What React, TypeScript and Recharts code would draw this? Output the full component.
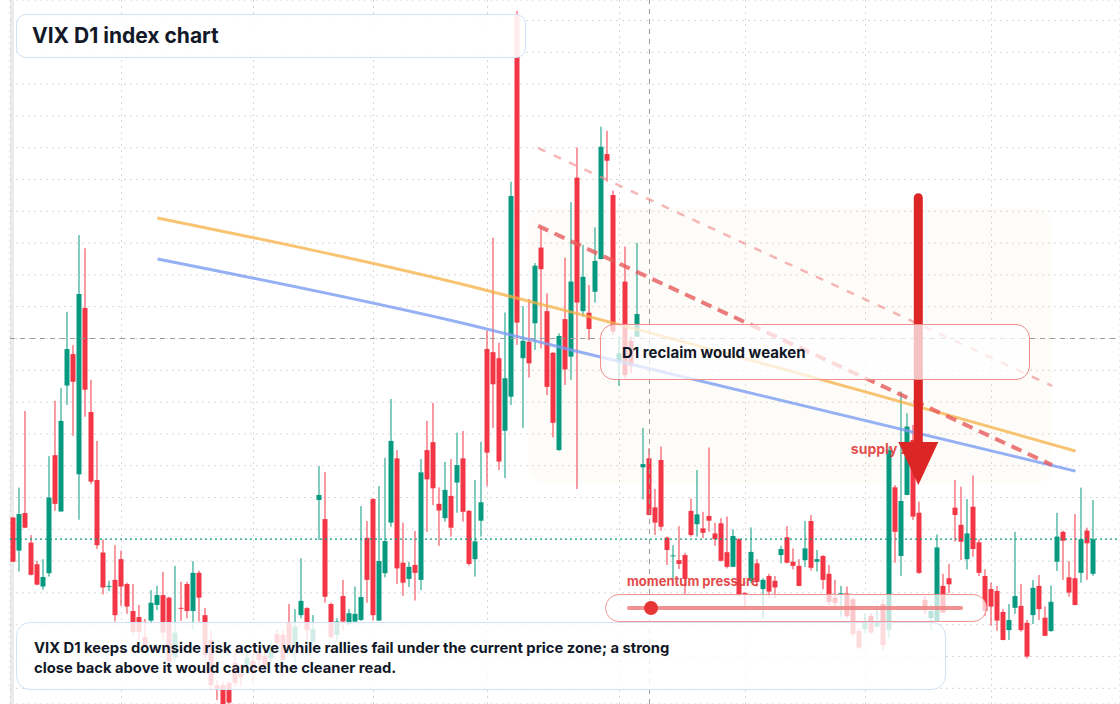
import React from 'react';
import {
  ComposedChart,
  Bar,
  Line,
  XAxis,
  YAxis,
  CartesianGrid,
  ReferenceLine,
  ReferenceArea,
  ReferenceDot,
} from 'recharts';

// ---- daily candles (VIX, D1) ----
const opens = [
  18.37, 17.33, 18.51, 17.58, 16.9, 16.2, 16.62, 20.33, 18.56, 22.52,
  23.51, 19.73, 24.96, 21.69, 19.55, 17.27, 16.21, 16.41, 17.06, 16.28,
  15.43, 15.24, 14.61, 15.13, 15.62, 15.93, 15.85, 13.97, 15.53, 16.28,
  15.43, 16.63, 15.3, 14.52, 13.1, 13.1, 13.17, 13.8, 13.45, 13.73,
  13.86, 14.12, 14.02, 13.94, 14.71, 14.68, 15.06, 14.31, 15.3, 15.52,
  14.47, 18.92, 18.32, 15.65, 14.68, 15.9, 15.02, 15.1, 15.15, 17.73,
  18.95, 15.13, 16.62, 18.21, 20.23, 16.95, 16.44, 16.88, 16.41, 20.49,
  20.74, 18.8, 18.35, 19.05, 19.47, 20.23, 18.58, 17.06, 18.27, 23.67,
  23.57, 23.38, 21.1, 22.17, 34.17, 23.38, 23.9, 24.48, 26.86, 24.86,
  23.55, 20.49, 24.61, 23.43, 29.06, 24.86, 24.81, 25.47, 26.5, 29.8,
  28.51, 23.27, 25.79, 23.93, 24.06, 19.95, 20.23, 18.69, 20.18, 17.74,
  17.17, 17.03, 17.19, 18.58, 18.16, 18.03, 18.42, 17.87, 18.19, 17.28,
  16.82, 17.69, 16.0, 16.38, 16.93, 16.12, 16.53, 16.38, 17.19, 17.75,
  16.98, 16.85, 17.03, 18.26, 16.98, 17.16, 16.6, 15.85, 15.93, 15.98,
  15.8, 14.8, 14.86, 15.27, 14.94, 15.65, 14.83, 19.32, 17.16, 19.08,
  20.81, 18.52, 15.78, 15.21, 15.1, 16.22, 16.46, 18.68, 18.14, 17.06,
  18.71, 17.59, 16.53, 16.12, 16.06, 15.4, 14.83, 15.53, 15.59, 15.06,
  15.3, 16.22, 15.22, 14.8, 16.98, 17.92, 16.49, 16.46, 16.63, 17.96,
  16.6,
];
const highs = [
  18.39, 19.31, 21.72, 17.82, 17.01, 17.06, 20.3, 22.04, 22.44, 24.84,
  23.79, 27.25, 26.84, 22.7, 20.78, 17.68, 16.38, 17.5, 17.33, 16.32,
  16.28, 15.62, 15.18, 16.09, 16.22, 16.66, 15.88, 16.85, 16.35, 16.35,
  17.0, 16.7, 15.53, 14.83, 13.26, 13.21, 13.21, 14.11, 13.73, 14.2,
  14.15, 14.31, 14.27, 14.47, 14.86, 14.83, 15.65, 15.49, 17.09, 15.55,
  15.3, 19.99, 19.8, 15.69, 15.2, 16.41, 15.49, 16.2, 18.73, 18.26,
  18.98, 19.36, 20.25, 22.1, 20.49, 18.21, 16.98, 17.95, 20.21, 21.41,
  21.98, 19.32, 20.12, 20.21, 21.04, 21.09, 18.61, 19.55, 20.75, 24.24,
  27.17, 23.87, 24.82, 28.93, 34.3, 25.02, 25.24, 26.37, 27.48, 25.42,
  23.58, 24.16, 26.54, 28.29, 30.01, 26.94, 25.68, 27.5, 30.66, 30.53,
  28.65, 24.06, 26.89, 24.06, 27.01, 21.19, 20.55, 19.27, 20.6, 17.77,
  17.5, 18.1, 17.26, 18.97, 19.86, 18.55, 20.57, 18.21, 18.35, 18.4,
  18.0, 17.72, 16.02, 18.06, 17.06, 16.46, 16.6, 16.53, 17.48, 18.1,
  17.4, 17.06, 18.26, 18.45, 17.35, 17.19, 16.88, 16.41, 16.22, 16.2,
  15.86, 14.86, 15.36, 15.36, 15.62, 15.8, 20.59, 19.39, 22.33, 21.65,
  21.28, 18.87, 15.9, 15.62, 17.84, 16.6, 16.91, 19.55, 19.34, 18.95,
  19.69, 17.69, 16.74, 16.32, 16.22, 15.49, 15.65, 17.92, 16.28, 15.15,
  16.41, 16.56, 15.57, 16.23, 18.52, 17.96, 17.0, 18.48, 19.31, 18.05,
  18.92,
];
const lows = [
  16.97, 16.67, 18.04, 16.55, 16.24, 16.1, 16.51, 18.58, 18.55, 21.91,
  20.94, 18.3, 21.54, 19.42, 17.38, 15.95, 16.06, 15.1, 15.59, 15.34,
  14.68, 14.52, 14.27, 15.02, 15.46, 14.52, 13.73, 13.89, 15.12, 15.2,
  14.86, 15.1, 13.89, 12.95, 12.63, 12.38, 12.51, 13.05, 13.05, 13.42,
  13.21, 13.68, 13.58, 13.79, 14.31, 13.37, 14.2, 13.8, 15.2, 14.52,
  14.31, 17.66, 15.69, 14.57, 14.47, 14.83, 14.99, 15.05, 15.12, 15.69,
  15.13, 15.12, 16.49, 18.08, 16.28, 15.91, 16.18, 15.76, 16.09, 17.92,
  18.76, 17.48, 18.24, 17.77, 18.52, 18.24, 16.86, 16.51, 17.77, 19.36,
  21.19, 19.86, 19.61, 21.91, 23.8, 21.19, 22.77, 23.64, 23.69, 22.22,
  20.89, 20.47, 22.54, 22.7, 19.27, 24.69, 23.95, 25.13, 26.49, 28.93,
  24.11, 22.51, 22.75, 22.91, 24.05, 18.94, 18.44, 17.82, 17.96, 16.88,
  16.41, 16.75, 15.97, 17.77, 17.77, 17.72, 17.92, 17.48, 16.98, 16.77,
  16.81, 15.9, 15.46, 16.3, 16.2, 15.2, 15.86, 15.83, 16.93, 16.93,
  16.74, 16.21, 16.82, 16.7, 16.67, 16.11, 15.62, 15.46, 15.25, 15.21,
  14.62, 14.23, 14.71, 14.71, 14.9, 14.2, 14.57, 16.95, 16.53, 19.07,
  18.29, 16.6, 15.34, 14.83, 15.09, 15.37, 15.99, 17.61, 17.03, 16.74,
  17.14, 16.53, 15.28, 14.97, 14.81, 14.51, 14.52, 15.34, 14.78, 13.94,
  15.02, 15.15, 14.64, 14.78, 16.69, 16.41, 15.88, 15.61, 16.32, 16.41,
  16.54,
];
const closes = [
  16.98, 18.48, 18.05, 16.57, 16.26, 16.5, 19.0, 18.8, 21.41, 23.67,
  22.64, 25.4, 22.39, 19.5, 17.5, 16.17, 16.22, 15.3, 16.2, 15.57,
  14.77, 14.77, 14.34, 15.69, 15.93, 14.75, 13.84, 14.75, 15.52, 15.43,
  16.63, 15.85, 14.05, 13.1, 12.95, 12.47, 12.55, 13.17, 13.36, 13.95,
  13.48, 13.89, 13.7, 14.31, 14.42, 13.89, 14.31, 14.94, 15.75, 14.83,
  14.86, 19.08, 15.88, 14.61, 15.1, 15.1, 15.36, 15.34, 15.87, 16.41,
  15.3, 17.0, 17.63, 20.78, 16.77, 16.32, 16.82, 16.63, 19.79, 19.57,
  19.29, 18.59, 19.24, 18.05, 20.02, 18.55, 16.91, 17.62, 18.85, 20.41,
  22.56, 20.13, 22.75, 28.48, 24.5, 23.93, 23.22, 26.29, 26.18, 22.48,
  21.35, 24.08, 23.03, 25.79, 25.13, 25.94, 24.3, 26.44, 30.03, 29.59,
  24.22, 23.54, 22.85, 23.14, 24.77, 20.05, 18.45, 18.21, 18.08, 17.35,
  17.18, 16.91, 16.44, 17.82, 18.47, 17.89, 18.27, 17.69, 17.01, 16.82,
  17.79, 15.93, 15.99, 17.29, 16.35, 16.41, 16.04, 16.17, 17.38, 16.95,
  16.85, 16.22, 17.4, 16.79, 17.06, 16.41, 15.72, 15.69, 15.99, 15.27,
  14.71, 14.28, 15.06, 14.75, 15.1, 14.36, 20.49, 17.92, 18.89, 21.23,
  18.4, 16.63, 15.46, 15.43, 17.43, 15.38, 16.27, 18.45, 17.61, 17.87,
  17.38, 16.63, 15.43, 15.57, 15.13, 14.52, 15.15, 15.9, 14.83, 14.0,
  16.16, 15.49, 14.65, 15.72, 17.77, 17.64, 16.01, 15.62, 17.69, 17.56,
  17.69,
];

// month boundaries (session index) and price grid
const monthStarts = [18, 40, 60, 79, 101, 122, 142, 163];
const priceTicks = [13, 14, 15, 16, 17, 18, 19, 20, 21, 22, 23, 24, 25, 26, 27, 28, 29, 30, 31, 32, 33, 34];
const xDomain = [-0.5833, 184.4167];
const yDomain = [12.506, 34.645];

// overlay curves (session index -> price)
const curveIdx = [24, 76, 93, 177];
const orangeVals = [27.79, 25.65, 24.83, 20.46];
const blueVals = [26.5, 24.43, 23.64, 19.83];

// annotations (session index, price)
const lastClose = 17.69;
const crossIndex = 106;
const crossPrice = 24;
const upperDash = [{ x: 87.45, y: 29.99 }, { x: 173.1, y: 22.51 }];
const lowerDash = [{ x: 87.45, y: 27.54 }, { x: 173.1, y: 20.02 }];
const zone = { x1: 85.8, x2: 173.1, y1: 19.42, y2: 28.1 };
const arrowX = 150.8;
const arrowTop = 28.43;
const arrowBase = 20.74;
const arrowTip = 19.39;
const supplyLabel = { x: 146.5, y: 20.55 };

const UP = '#089981';
const DOWN = '#f23645';

const data = opens.map((o, i) => {
  const k = curveIdx.indexOf(i);
  return {
    i,
    o,
    h: highs[i],
    l: lows[i],
    c: closes[i],
    orange: k >= 0 ? orangeVals[k] : null,
    blue: k >= 0 ? blueVals[k] : null,
  };
});

function Candle(props: any) {
  const { x, y, width, height, payload } = props;
  if (!payload || !isFinite(x) || !isFinite(y) || !isFinite(height)) return null;
  const { o, h, l, c } = payload;
  const cx = x + width / 2;
  const k = height / (h - l);
  const yo = y + (h - o) * k;
  const yc = y + (h - c) * k;
  const top = Math.min(yo, yc);
  const bh = Math.max(1, Math.abs(yc - yo));
  const col = c >= o ? UP : DOWN;
  return (
    <g>
      <line x1={cx} x2={cx} y1={y} y2={y + height} stroke={col} strokeWidth={1} />
      <rect x={cx - 2.5} y={top} width={5} height={bh} fill={col} />
    </g>
  );
}

function ArrowHead(props: any) {
  const { cx, cy } = props;
  if (!isFinite(cx) || !isFinite(cy)) return null;
  return <path d={`M${cx - 20},${cy - 43} L${cx + 20},${cy - 43} L${cx},${cy} Z`} fill="#dc2626" />;
}

function SupplyText(props: any) {
  const { cx, cy } = props;
  if (!isFinite(cx) || !isFinite(cy)) return null;
  return (
    <text x={cx} y={cy} textAnchor="middle" dominantBaseline="central" fill="#e03c3c" fillOpacity={0.92} fontSize={14} fontWeight={700}>
      supply zone
    </text>
  );
}

const font = "Inter, 'Liberation Sans', Arial, sans-serif";

export default function App() {
  return (
    <div style={{ position: 'absolute', left: 0, top: 0, width: 1120, height: 704, overflow: 'hidden', background: '#ffffff', fontFamily: font }}>
      <div style={{ position: 'absolute', left: 10, top: 0, width: 3.5, height: 704, background: '#ebebeb' }} />
      <div style={{ position: 'absolute', left: 0, top: 0 }}>
        <ComposedChart width={1120} height={704} data={data} margin={{ top: 0, right: 0, bottom: 0, left: 10 }}>
          <CartesianGrid stroke="#d8d8d8" strokeDasharray="2 4" />
          <XAxis dataKey="i" type="number" domain={xDomain} ticks={monthStarts} allowDataOverflow hide />
          <YAxis type="number" domain={yDomain} ticks={priceTicks} allowDataOverflow hide />
          <ReferenceArea x1={zone.x1} x2={zone.x2} y1={zone.y1} y2={zone.y2} fill="#f8e3cd" fillOpacity={0.12} stroke="none" radius={18} />
          <Bar dataKey={(d: any) => [d.l, d.h]} barSize={5} shape={Candle} isAnimationActive={false} />
          <ReferenceLine x={crossIndex} stroke="#9b9b9b" strokeDasharray="5 5" strokeWidth={1} />
          <ReferenceLine y={crossPrice} stroke="#9b9b9b" strokeDasharray="5 5" strokeWidth={1} />
          <ReferenceLine y={lastClose} stroke={UP} strokeDasharray="2 3" strokeWidth={1.2} />
          <Line dataKey="orange" type="monotone" connectNulls dot={false} activeDot={false} stroke="#f6b042" strokeOpacity={0.75} strokeWidth={3} isAnimationActive={false} />
          <Line dataKey="blue" type="monotone" connectNulls dot={false} activeDot={false} stroke="#7c9cf3" strokeOpacity={0.8} strokeWidth={3} isAnimationActive={false} />
          <ReferenceLine segment={upperDash} stroke="#f08f8f" strokeOpacity={0.65} strokeWidth={2.5} strokeDasharray="8 9" />
          <ReferenceLine segment={lowerDash} stroke="#e65a5a" strokeOpacity={0.8} strokeWidth={4} strokeDasharray="11 7" />
          <ReferenceDot x={supplyLabel.x} y={supplyLabel.y} r={0} shape={SupplyText} />
          <ReferenceLine segment={[{ x: arrowX, y: arrowTop }, { x: arrowX, y: arrowBase }]} stroke="#dc2626" strokeWidth={9} strokeLinecap="round" />
          <ReferenceDot x={arrowX} y={arrowTip} r={0} shape={ArrowHead} />
        </ComposedChart>
      </div>

      {/* title */}
      <div style={{ position: 'absolute', left: 16, top: 14, width: 508, height: 42, border: '1px solid #d3e1f6', borderRadius: 10, background: 'rgba(255,255,255,0.9)' }}>
        <div style={{ position: 'absolute', left: 15, top: 8, fontSize: 21, fontWeight: 700, color: '#111827', whiteSpace: 'nowrap' }}>VIX D1 index chart</div>
      </div>

      {/* reclaim box */}
      <div style={{ position: 'absolute', left: 600, top: 324, width: 428, height: 54, border: '1px solid #ef8c8c', borderRadius: 14, background: 'rgba(255,255,255,0.72)' }}>
        <div style={{ position: 'absolute', left: 21, top: 18, fontSize: 15, fontWeight: 700, color: '#111827', whiteSpace: 'nowrap' }}>D1 reclaim would weaken</div>
      </div>

      {/* momentum gauge */}
      <div style={{ position: 'absolute', left: 627, top: 573, fontSize: 13, fontWeight: 700, color: '#e23d3d', opacity: 0.92, whiteSpace: 'nowrap' }}>momentum pressure</div>
      <div style={{ position: 'absolute', left: 605, top: 594, width: 380, height: 26, border: '1px solid #f09595', borderRadius: 14, background: 'rgba(255,255,255,0.72)' }}>
        <div style={{ position: 'absolute', left: 21, top: 11, width: 336, height: 4, background: '#ee7f7f', opacity: 0.85, borderRadius: 2 }} />
        <div style={{ position: 'absolute', left: 38, top: 6, width: 14, height: 14, borderRadius: 7, background: '#e53535' }} />
      </div>

      {/* bottom note */}
      <div style={{ position: 'absolute', left: 16, top: 622, width: 928, height: 66, border: '1px solid #d3e1f6', borderRadius: 14, background: 'rgba(255,255,255,0.82)' }}>
        <div style={{ position: 'absolute', left: 17, top: 15, fontSize: 14.75, lineHeight: '20px', fontWeight: 700, color: '#111827', whiteSpace: 'nowrap' }}>
          VIX D1 keeps downside risk active while rallies fail under the current price zone; a strong
          <br />
          close back above it would cancel the cleaner read.
        </div>
      </div>
    </div>
  );
}
